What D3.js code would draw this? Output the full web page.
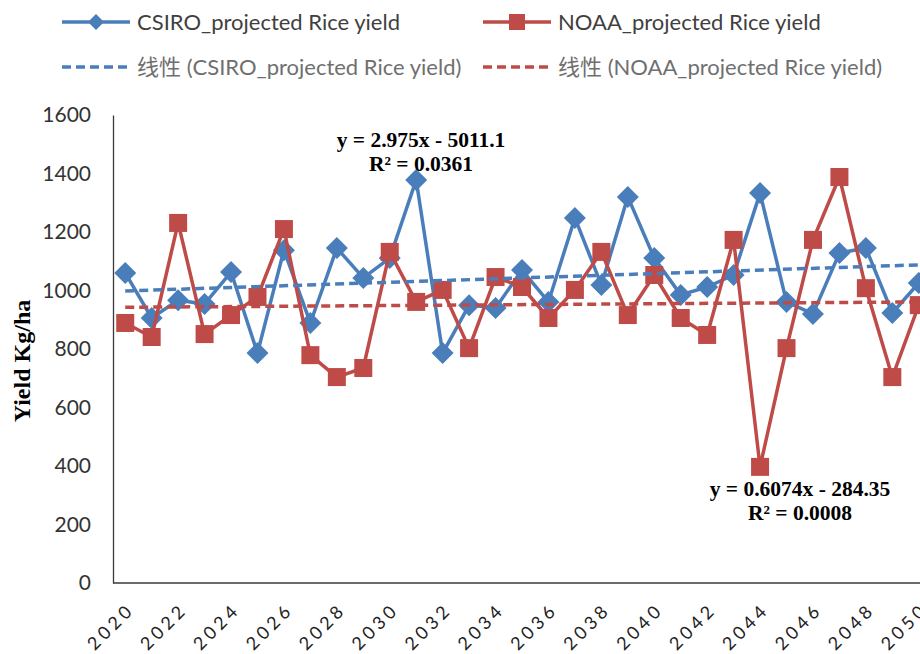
<!DOCTYPE html>
<html>
<head>
<meta charset="utf-8">
<script src="https://cdn.jsdelivr.net/npm/d3@7"></script>
<style>
  body { margin: 0; background: #fff; }
  svg { display: block; }
</style>
</head>
<body>
<div id="chart"></div>
<script>
var svgWidth = 920;
var svgHeight = 654;

// data
var years = d3.range(2020, 2051);
var csiro = [1060, 906, 967, 954, 1063, 786, 1138, 889, 1145, 1043, 1111, 1378, 786, 950, 940, 1070,
             961, 1248, 1019, 1320, 1111, 985, 1012, 1053, 1333, 961, 920, 1128, 1145, 923, 1026];
var noaa = [889, 841, 1231, 851, 916, 978, 1210, 779, 704, 735, 1132, 961, 1002, 803, 1046, 1012,
            906, 1002, 1132, 916, 1053, 906, 848, 1173, 397, 803, 1173, 1388, 1008, 704, 950];
var yTicks = [0, 200, 400, 600, 800, 1000, 1200, 1400, 1600];
var xTickYears = years.filter(d => d % 2 === 0);

// trend line coefficients shown on the chart
var csiroTrend = { slope: 2.975, icpt: -5011.1, eq: "y = 2.975x - 5011.1", r2: "R² = 0.0361" };
var noaaTrend = { slope: 0.6074, icpt: -284.35, eq: "y = 0.6074x - 284.35", r2: "R² = 0.0008" };

var blue = "#4a7ebb";
var red = "#be4b48";

var svg = d3.select("#chart")
  .append("svg")
  .attr("width", svgWidth)
  .attr("height", svgHeight);

// scales
var xScale = d3.scalePoint()
  .domain(years)
  .range([112, 932])
  .padding(0.5);

var yScale = d3.scaleLinear()
  .domain([0, 1600])
  .range([583, 115]);

// axes
var leftAxis = d3.axisLeft(yScale)
  .tickValues(yTicks)
  .tickFormat(d3.format("d"))
  .tickSize(0)
  .tickPadding(22);
var yAxisG = svg.append("g")
  .attr("transform", "translate(113,0)")
  .call(leftAxis);
yAxisG.select(".domain").attr("stroke", "#3a3a3a").attr("stroke-width", 1.3);
yAxisG.selectAll("text")
  .attr("font-family", "Lato, sans-serif")
  .attr("font-size", 21)
  .attr("fill", "#333");

svg.append("line")
  .attr("x1", 113).attr("x2", svgWidth)
  .attr("y1", yScale(0)).attr("y2", yScale(0))
  .attr("stroke", "#3a3a3a").attr("stroke-width", 1.3);

// x labels rotated
svg.append("g").selectAll("text")
  .data(xTickYears)
  .enter()
  .append("text")
  .attr("transform", d => `translate(${xScale(d) + 6}, 606) rotate(-45)`)
  .attr("text-anchor", "end")
  .attr("dy", "0.35em")
  .attr("font-family", "Lato, sans-serif")
  .attr("font-size", 18)
  .attr("letter-spacing", 4)
  .attr("fill", "#222")
  .text(d => d);

// y axis title
svg.append("text")
  .attr("transform", "translate(22,361) rotate(-90)")
  .attr("text-anchor", "middle")
  .attr("dy", "0.35em")
  .attr("font-family", "'Liberation Serif', 'Times New Roman', serif")
  .attr("font-weight", "bold")
  .attr("font-size", 24)
  .attr("fill", "#000")
  .text("Yield Kg/ha");

function diamond(g, x, y, s, color) {
  g.append("path")
    .attr("d", `M${x},${y - s}L${x + s},${y}L${x},${y + s}L${x - s},${y}Z`)
    .attr("fill", color);
}
function square(g, x, y, s, color) {
  g.append("rect")
    .attr("x", x - s).attr("y", y - s)
    .attr("width", 2 * s).attr("height", 2 * s)
    .attr("fill", color);
}

var line = d3.line()
  .x((d, i) => xScale(years[i]))
  .y(d => yScale(d));

// CSIRO series
var gC = svg.append("g");
gC.append("path")
  .attr("d", line(csiro))
  .attr("fill", "none")
  .attr("stroke", blue)
  .attr("stroke-width", 3.5)
  .attr("stroke-linejoin", "round");
csiro.forEach((v, i) => diamond(gC, xScale(years[i]), yScale(v), 11, blue));

// NOAA series
var gN = svg.append("g");
gN.append("path")
  .attr("d", line(noaa))
  .attr("fill", "none")
  .attr("stroke", red)
  .attr("stroke-width", 3.5)
  .attr("stroke-linejoin", "round");
noaa.forEach((v, i) => square(gN, xScale(years[i]), yScale(v), 9, red));

// trend lines
[[csiroTrend, blue], [noaaTrend, red]].forEach(function(t) {
  var tr = t[0];
  var x0 = years[0], x1 = years[years.length - 1];
  svg.append("line")
    .attr("x1", xScale(x0)).attr("y1", yScale(tr.slope * x0 + tr.icpt))
    .attr("x2", xScale(x1)).attr("y2", yScale(tr.slope * x1 + tr.icpt))
    .attr("stroke", t[1])
    .attr("stroke-width", 3.5)
    .attr("stroke-dasharray", "9,5");
});

// equations
function eqLabel(tr, cx, cy) {
  var g = svg.append("g")
    .attr("font-family", "'Liberation Serif', 'Times New Roman', serif")
    .attr("font-weight", "bold")
    .attr("font-size", 21.5)
    .attr("fill", "#000")
    .attr("text-anchor", "middle");
  g.append("text").attr("x", cx).attr("y", cy).attr("dy", "0.35em").text(tr.eq);
  g.append("text").attr("x", cx).attr("y", cy + 24).attr("dy", "0.35em").text(tr.r2);
}
eqLabel(csiroTrend, 421, 139);
eqLabel(noaaTrend, 800, 488);

// legend
var legend = [
  { x: 62, y: 22, color: blue, mark: "diamond", dash: null, label: "CSIRO_projected Rice yield", fill: "#3f3f3f" },
  { x: 483, y: 22, color: red, mark: "square", dash: null, label: "NOAA_projected Rice yield", fill: "#3f3f3f" },
  { x: 62, y: 67, color: blue, mark: null, dash: "9,5", label: "线性 (CSIRO_projected Rice yield)", fill: "#6f6f6f" },
  { x: 483, y: 67, color: red, mark: null, dash: "9,5", label: "线性 (NOAA_projected Rice yield)", fill: "#6f6f6f" }
];
var lg = svg.append("g");
legend.forEach(function(d) {
  lg.append("line")
    .attr("x1", d.x).attr("x2", d.x + 68)
    .attr("y1", d.y).attr("y2", d.y)
    .attr("stroke", d.color)
    .attr("stroke-width", 3.5)
    .attr("stroke-dasharray", d.dash);
  if (d.mark === "diamond") diamond(lg, d.x + 34, d.y, 8, d.color);
  if (d.mark === "square") square(lg, d.x + 34, d.y, 8, d.color);
  lg.append("text")
    .attr("x", d.x + 75)
    .attr("y", d.y)
    .attr("dy", "0.35em")
    .attr("font-family", "Lato, 'Noto Sans CJK SC', sans-serif")
    .attr("font-size", 22)
    .attr("fill", d.fill)
    .text(d.label);
});
</script>
</body>
</html>
